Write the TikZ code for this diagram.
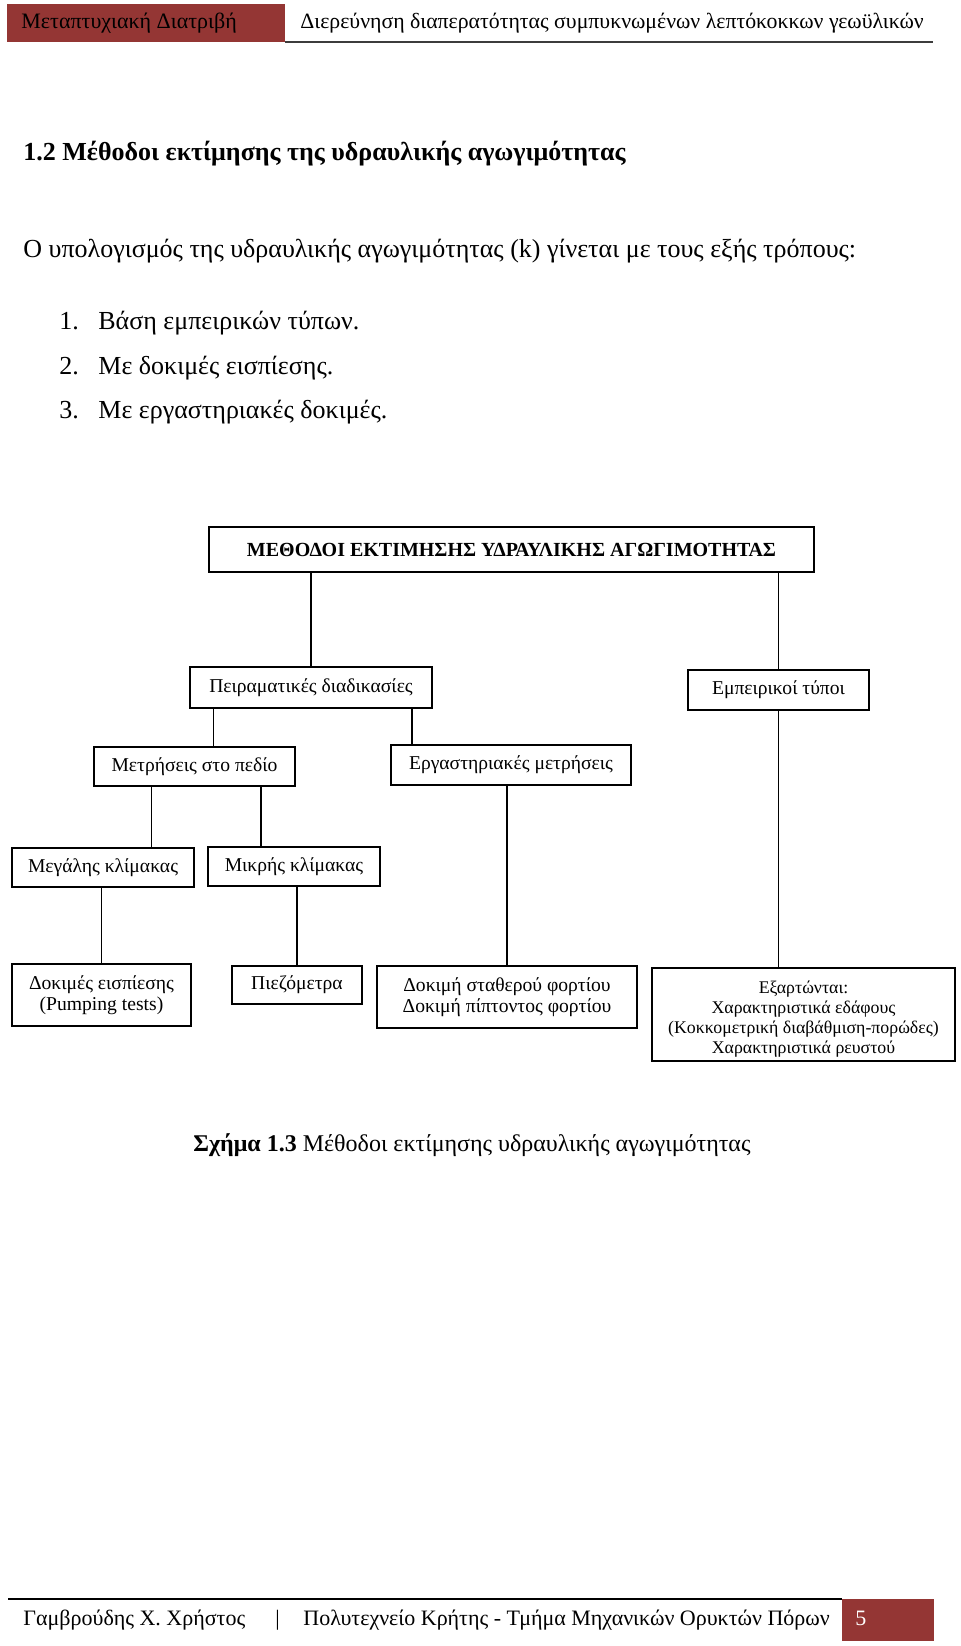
\documentclass[tikz,border=0pt]{standalone}
\usepackage{fontspec}
\setmainfont{Liberation Serif}
\usetikzlibrary{positioning,calc}
\definecolor{headred}{RGB}{148,54,52}
\definecolor{rulegray}{RGB}{60,60,60}

\begin{document}
\begin{tikzpicture}[
  x=0.5pt, y=-0.5pt,
  box/.style={draw, line width=0.9pt, inner sep=2pt, align=center,
              font=\fontsize{9.8}{10.8}\selectfont},
  link/.style={line width=0.6pt},
  txt/.style={anchor=west, inner sep=0pt, text height=9.5pt, text depth=3pt,
              font=\fontsize{13}{15}\selectfont},
  small/.style={anchor=west, inner sep=0pt, text height=8pt, text depth=2.6pt,
                font=\fontsize{11}{13}\selectfont},
]
\useasboundingbox (0,0) rectangle (960,1646);
\fill[white] (0,0) rectangle (960,1646);

% ---------- page head ----------
\fill[headred] (7,4) rectangle (285,42);
\draw[rulegray, line width=1pt] (285,42) -- (933,42);
\node[small] (hleft) at (21,23) {Μεταπτυχιακή Διατριβή};
\node[small, font=\fontsize{10.9}{13}\selectfont] (hright) at (300,23)
  {Διερεύνηση διαπερατότητας συμπυκνωμένων λεπτόκοκκων γεωϋλικών};

% ---------- text above the chart ----------
\node[txt, font=\fontsize{13}{15}\selectfont\bfseries] (sec) at (23,154)
  {1.2 Μέθοδοι εκτίμησης της υδραυλικής αγωγιμότητας};
\node[txt] (par) at (23,251)
  {Ο υπολογισμός της υδραυλικής αγωγιμότητας (k) γίνεται με τους εξής τρόπους:};
\node[txt] (n1) at (59,323) {1.};
\node[txt] (l1) at (98,323) {Βάση εμπειρικών τύπων.};
\node[txt] (n2) at (59,368) {2.};
\node[txt] (l2) at (98,368) {Με δοκιμές εισπίεσης.};
\node[txt] (n3) at (59,412) {3.};
\node[txt] (l3) at (98,412) {Με εργαστηριακές δοκιμές.};

% ---------- chart boxes ----------
\node[box, minimum width=302.5pt, minimum height=22.5pt,
      font=\fontsize{10}{11}\selectfont\bfseries] (top) at (511.5,549.5)
  {ΜΕΘΟΔΟΙ ΕΚΤΙΜΗΣΗΣ ΥΔΡΑΥΛΙΚΗΣ ΑΓΩΓΙΜΟΤΗΤΑΣ};
\node[box, minimum width=121pt, minimum height=20.5pt] (pir) at (311,687.5)
  {Πειραματικές διαδικασίες};
\node[box, minimum width=90.5pt, minimum height=20pt] (emp) at (778.5,690)
  {Εμπειρικοί τύποι};
\node[box, minimum width=100.5pt, minimum height=19.5pt] (met) at (194.5,766.5)
  {Μετρήσεις στο πεδίο};
\node[box, minimum width=120pt, minimum height=20pt] (erg) at (511,765)
  {Εργαστηριακές μετρήσεις};
\node[box, minimum width=91pt, minimum height=19.5pt] (meg) at (103,867.5)
  {Μεγάλης κλίμακας};
\node[box, minimum width=86pt, minimum height=19.5pt] (mik) at (294,866.5)
  {Μικρής κλίμακας};
\node[box, minimum width=89.5pt, minimum height=31pt] (dok) at (101.5,995)
  {Δοκιμές εισπίεσης\\(Pumping tests)};
\node[box, minimum width=65pt, minimum height=19pt] (pie) at (297,985)
  {Πιεζόμετρα};
\node[box, minimum width=130pt, minimum height=31pt] (sta) at (507,997)
  {Δοκιμή σταθερού φορτίου\\Δοκιμή πίπτοντος φορτίου};
\node[box, minimum width=151.5pt, minimum height=46.5pt] (exa) at (803.5,1014.5) {};
\node[inner sep=0pt, align=center, font=\fontsize{8.9}{10}\selectfont] (exat)
  at ($(exa.center)+(0,5)$)
  {Εξαρτώνται:\\Χαρακτηριστικά εδάφους\\(Κοκκομετρική διαβάθμιση-πορώδες)\\Χαρακτηριστικά ρευστού};

% ---------- connectors ----------
\coordinate (p1) at ($(pir.south west)+(24,0)$);
\coordinate (p2) at ($(pir.south east)+(-21,0)$);
\coordinate (m1) at ($(met.south west)+(58,0)$);
\coordinate (m2) at ($(met.south east)+(-35,0)$);
\draw[link] (pir.north) -- (pir.north |- top.south);
\draw[link] (emp.north) -- (emp.north |- top.south);
\draw[link] (p1) -- (p1 |- met.north);
\draw[link] (p2) -- (p2 |- erg.north);
\draw[link] (m1) -- (m1 |- meg.north);
\draw[link] (m2) -- (m2 |- mik.north);
\draw[link] (dok.north) -- (dok.north |- meg.south);
\draw[link] (pie.north) -- (pie.north |- mik.south);
\draw[link] (sta.north) -- (sta.north |- erg.south);
\draw[link] (emp.south) -- (emp.south |- exa.north);

% ---------- caption ----------
\node[inner sep=0pt, font=\fontsize{12}{14}\selectfont] (cap) at (472,1145)
  {\textbf{Σχήμα 1.3} Μέθοδοι εκτίμησης υδραυλικής αγωγιμότητας};

% ---------- page foot ----------
\draw[line width=0.8pt] (8,1599) -- (842,1599);
\fill[headred] (842,1599) rectangle (934,1641);
\node[small] (auth) at (23,1620) {Γαμβρούδης Χ. Χρήστος};
\node[small] (bar) at (275,1620) {|};
\node[small] (uni) at (303,1620)
  {Πολυτεχνείο Κρήτης - Τμήμα Μηχανικών Ορυκτών Πόρων};
\node[small, text=white] (pg) at (855,1620) {5};

\end{tikzpicture}
\end{document}
